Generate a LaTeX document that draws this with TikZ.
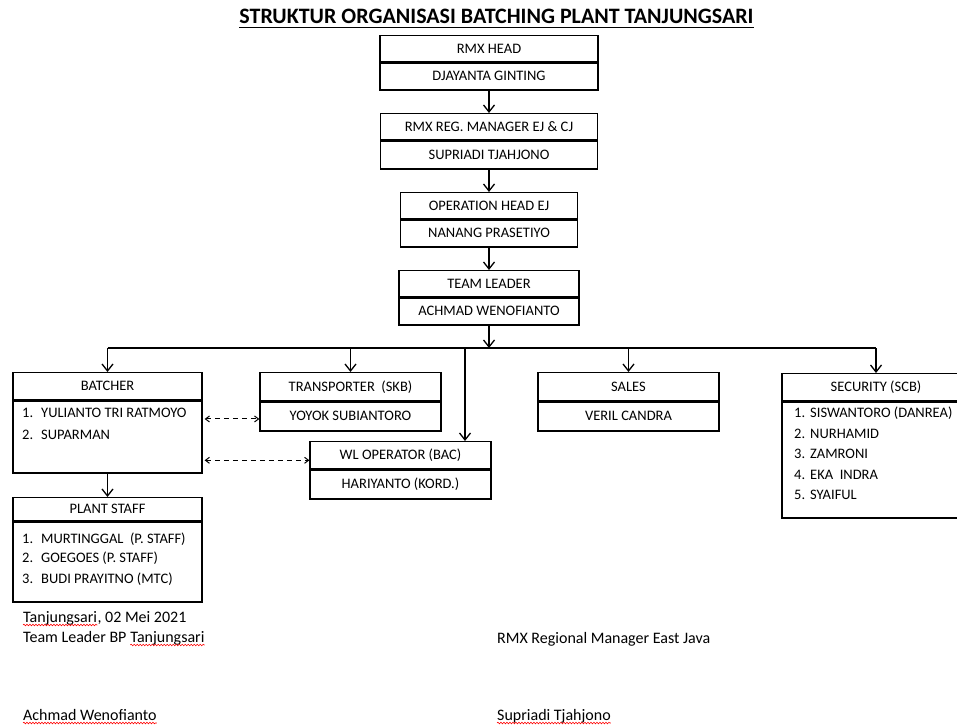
\documentclass[tikz,border=0pt]{standalone}
\usepackage{fontspec}
\setmainfont{Carlito}
\usepackage{xcolor}
\usepackage{tikz}
\usetikzlibrary{arrows.meta}
\usetikzlibrary{calc}
\usetikzlibrary{decorations.pathmorphing}
\tikzstyle{hd} = [draw, line width=1.3pt, anchor=north, inner sep=0pt, text height=10pt, text depth=1pt, font=\fontsize{14.5}{16}\selectfont]
\tikzstyle{lst} = [anchor=base west, inner sep=0pt, font=\fontsize{14.5}{16}\selectfont]
\tikzstyle{sig} = [anchor=base west, inner sep=0pt, font=\fontsize{16}{18}\selectfont]
\tikzstyle{arr} = [line width=1.3pt, -{Straight Barb[length=7pt,width=11pt]}]
\tikzstyle{dsh} = [line width=1pt, dash pattern=on 5pt off 4pt, {Straight Barb[length=4pt,width=6pt]}-{Straight Barb[length=4pt,width=6pt]}]
\tikzstyle{wave} = [red, line width=0.6pt, decorate, decoration={snake, amplitude=0.8pt, segment length=3pt}]

\begin{document}
\begin{tikzpicture}[x=1pt,y=-1pt]
			\useasboundingbox (0,0) rectangle (957,725);
			\clip (0,0) rectangle (957,725);
			% title
			\node[inner sep=0pt, anchor=base, font=\fontsize{22}{24}\selectfont\bfseries] (title) at (496.5,24) {STRUKTUR ORGANISASI BATCHING PLANT TANJUNGSARI};
			\draw[line width=1.5pt] ($(title.base west)+(0,3.5)$) -- ($(title.base east)+(0,3.5)$);
			% top chain
			\node[hd, minimum width=218, minimum height=26] (rmxh) at (489,35) {RMX HEAD};
			\node[hd, minimum width=218, minimum height=27] (rmxb) at (rmxh.south) {DJAYANTA GINTING};
			\node[hd, minimum width=217, minimum height=26] (regh) at (489,113) {RMX REG.\ MANAGER EJ \& CJ};
			\node[hd, minimum width=217, minimum height=28] (regb) at (regh.south) {SUPRIADI TJAHJONO};
			\node[hd, minimum width=177, minimum height=26] (opsh) at (489,192) {OPERATION HEAD EJ};
			\node[hd, minimum width=177, minimum height=27] (opsb) at (opsh.south) {NANANG PRASETIYO};
			\node[hd, minimum width=180, minimum height=26] (tlh) at (489,270) {TEAM LEADER};
			\node[hd, minimum width=180, minimum height=27] (tlb) at (tlh.south) {ACHMAD WENOFIANTO};
			\draw[arr] (rmxb.south) -- (regh.north);
			\draw[arr] (regb.south) -- (opsh.north);
			\draw[arr] (opsb.south) -- (tlh.north);
			% second row
			\node[hd, minimum width=189, minimum height=27] (bath) at (107.5,372) {BATCHER};
			\node[hd, minimum width=189, minimum height=72] (batb) at (bath.south) {};
			\node[hd, minimum width=181, minimum height=28] (trh) at (350.5,372) {TRANSPORTER\ \ (SKB)};
			\node[hd, minimum width=181, minimum height=29] (trb) at (trh.south) {YOYOK SUBIANTORO};
			\node[hd, minimum width=181, minimum height=27] (wlh) at (400.5,441) {WL OPERATOR (BAC)};
			\node[hd, minimum width=181, minimum height=29] (wlb) at (wlh.south) {HARIYANTO (KORD.)};
			\node[hd, minimum width=181, minimum height=28] (salh) at (628.5,372) {SALES};
			\node[hd, minimum width=181, minimum height=29] (salb) at (salh.south) {VERIL CANDRA};
			\node[hd, minimum width=188, minimum height=27] (sech) at (876,373) {SECURITY (SCB)};
			\node[hd, minimum width=188, minimum height=116] (secb) at (sech.south) {};
			\node[hd, minimum width=189, minimum height=23] (psth) at (107.5,497) {PLANT STAFF};
			\node[hd, minimum width=189, minimum height=80] (pstb) at (psth.south) {};
			% bus
			\coordinate (bus) at (489,348);
			\coordinate (wltap) at (465,348);
			\draw[arr] (tlb.south) -- (bus);
			\draw[line width=1.3pt] (bus -| bath.north) -- (bus -| sech.north);
			\draw[arr] (bus -| bath.north) -- (bath.north);
			\draw[arr] (bus -| trh.north) -- (trh.north);
			\draw[arr] (bus -| salh.north) -- (salh.north);
			\draw[arr] (bus -| sech.north) -- (sech.north);
			\draw[arr] (wltap) -- (wltap |- wlh.north);
			\draw[arr] (batb.south) -- (psth.north);
			% dashed links
			\coordinate (d1) at ($(trb.west)+(0,2.5)$);
			\coordinate (d2) at ($(wlh.south west)+(0,-9)$);
			\draw[dsh] ($(d1 -| batb.east)+(2,0)$) -- (d1);
			\draw[dsh] ($(d2 -| batb.east)+(2,0)$) -- (d2);
			% lists
			\node[lst] (bat1) at (22,417.5) {\makebox[19pt][l]{1.}YULIANTO TRI RATMOYO};
			\node[lst] (bat2) at (22,439.5) {\makebox[19pt][l]{2.}SUPARMAN};
			\node[lst] (pst1) at (22,543.5) {\makebox[19pt][l]{1.}MURTINGGAL\ \ (P.\ STAFF)};
			\node[lst] (pst2) at (22,562.5) {\makebox[19pt][l]{2.}GOEGOES (P.\ STAFF)};
			\node[lst] (pst3) at (22,583.5) {\makebox[19pt][l]{3.}BUDI PRAYITNO (MTC)};
			\node[lst] (sec1) at (794,417.5) {\makebox[16pt][l]{1.}SISWANTORO (DANREA)};
			\node[lst] (sec2) at (794,438) {\makebox[16pt][l]{2.}NURHAMID};
			\node[lst] (sec3) at (794,458.5) {\makebox[16pt][l]{3.}ZAMRONI};
			\node[lst] (sec4) at (794,479) {\makebox[16pt][l]{4.}EKA\ \ INDRA};
			\node[lst] (sec5) at (794,499.5) {\makebox[16pt][l]{5.}SYAIFUL};
			% signatures
			\node[sig] (place) at (23,622) {Tanjungsari};
			\node[sig] (date) at (place.base east) {, 02 Mei 2021};
			\node[sig] (tlrole) at (23,642) {Team Leader BP};
			\node[sig, xshift=3.6pt] (tlsite) at (tlrole.base east) {Tanjungsari};
			\node[sig] (tlname) at (23,720) {Achmad Wenofianto};
			\node[sig] (rmrole) at (497,643) {RMX Regional Manager East Java};
			\node[sig] (rmname) at (497,720) {Supriadi Tjahjono};
			\draw[wave] ($(place.base west)+(0,3)$) -- ($(place.base east)+(0,3)$);
			\draw[wave] ($(tlsite.base west)+(0,3)$) -- ($(tlsite.base east)+(0,3)$);
			\draw[wave] ($(tlname.base west)+(0,3)$) -- ($(tlname.base east)+(0,3)$);
			\draw[wave] ($(rmname.base west)+(0,3)$) -- ($(rmname.base east)+(0,3)$);
		\end{tikzpicture}
\end{document}
